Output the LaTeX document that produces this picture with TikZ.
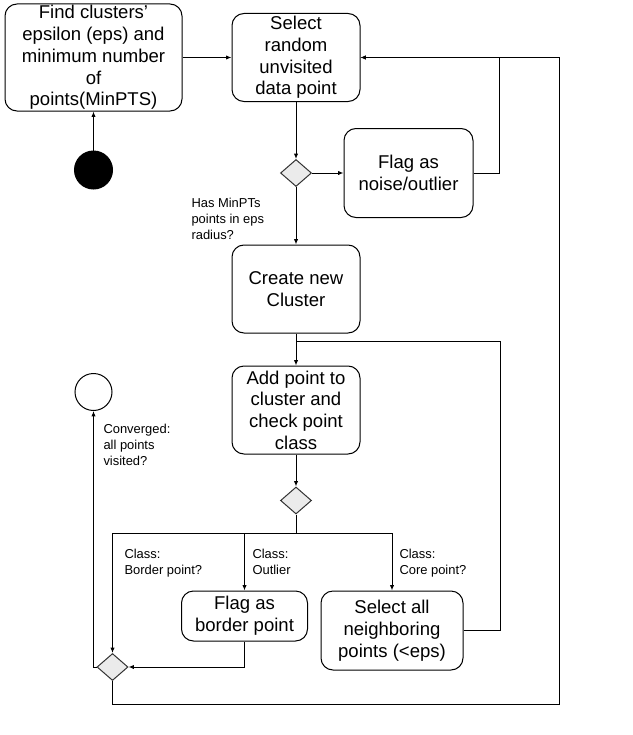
\documentclass[tikz,border=0pt]{standalone}
\usepackage{fontspec}
\setmainfont{Liberation Sans}
\usetikzlibrary{arrows.meta,shapes.geometric,positioning}

\begin{document}
\begin{tikzpicture}[x=0.75pt,y=-0.75pt,line width=0.75pt,>={Latex[length=4pt,width=3.2pt]},
action/.style={rectangle,rounded corners=9pt,draw,align=center,inner sep=0pt,
font=\fontsize{13.9}{16.3}\selectfont},
decision/.style={diamond,draw=black!80,fill=black!8,inner sep=0pt,
minimum width=23.25pt,minimum height=20.25pt},
note/.style={align=left,inner sep=0pt,anchor=north west,font=\fontsize{9.7}{12}\selectfont}]
    \useasboundingbox (0,0) rectangle (632,735);
    \node[action,minimum width=132.75pt,minimum height=80.25pt] (find) at (93.5,57.5) {Find clusters’\\epsilon (eps) and\\minimum number\\of\\points(MinPTS)};
    \node[action,minimum width=96pt,minimum height=66pt] (pick) at (296,57.5) {Select\\random\\unvisited\\data point};
    \node[decision] (dec1) at (296,173) {};
    \node[action,minimum width=96.75pt,minimum height=66.75pt] (noise) at (408.5,173) {Flag as\\noise/outlier};
    \node[action,minimum width=96pt,minimum height=66pt] (create) at (296,289) {Create new\\Cluster};
    \node[action,minimum width=96pt,minimum height=66pt] (add) at (296,410) {Add point to\\cluster and\\check point\\class};
    \node[decision] (dec2) at (296,500.5) {};
    \node[action,minimum width=94.5pt,minimum height=37.5pt] (border) at (244.5,616) {Flag as\\border point};
    \node[action,minimum width=106.5pt,minimum height=59.25pt] (selall) at (392,630.5) {Select all\\neighboring\\points (<eps)};
    \node[decision] (dec3) at (112.5,667) {};
    \node[circle,draw,fill=black,minimum size=28.5pt,inner sep=0pt] (start) at (93.5,170) {};
    \node[circle,draw,minimum size=27.75pt,inner sep=0pt] (stop) at (93.5,392) {};
    % guard labels
    \node[note] (hasmin) at (191,198) {Has MinPTs\\points in eps\\radius?};
    \node[note] (conv) at (103,424) {Converged:\\all points\\visited?};
    \node[note] (isborder) at (124,549) {Class:\\Border point?};
    \node[note] (isout) at (252,549) {Class:\\Outlier};
    \node[note] (iscore) at (399,549) {Class:\\Core point?};
    \coordinate (split) at (296,533);
    \coordinate (join) at (296,341);
    \coordinate (loop) at (559,704);
    \draw[->] (start) -- (find);
    \draw[->] (find) -- (pick);
    \draw[->] (pick) -- (dec1);
    \draw[->] (dec1) -- (noise);
    \draw[->] (dec1) -- (create);
    \draw[->] (noise.east) -- ++(26,0) |- (pick.east);
    \draw[->] (create) -- (add);
    \draw (selall.east) -- ++(37,0) |- (join);
    \draw[->] (add) -- (dec2);
    \draw (dec2.south) -- (split);
    \draw[->] (split) -| (dec3.north);
    \draw[->] (split) -| (border.north);
    \draw[->] (split) -| (selall.north);
    \draw[->] (border.south) |- (dec3.east);
    \draw[->] (dec3.west) -| (stop.south);
    \draw[->] (dec3.south) |- (loop) |- (pick.east);
\end{tikzpicture}
\end{document}
